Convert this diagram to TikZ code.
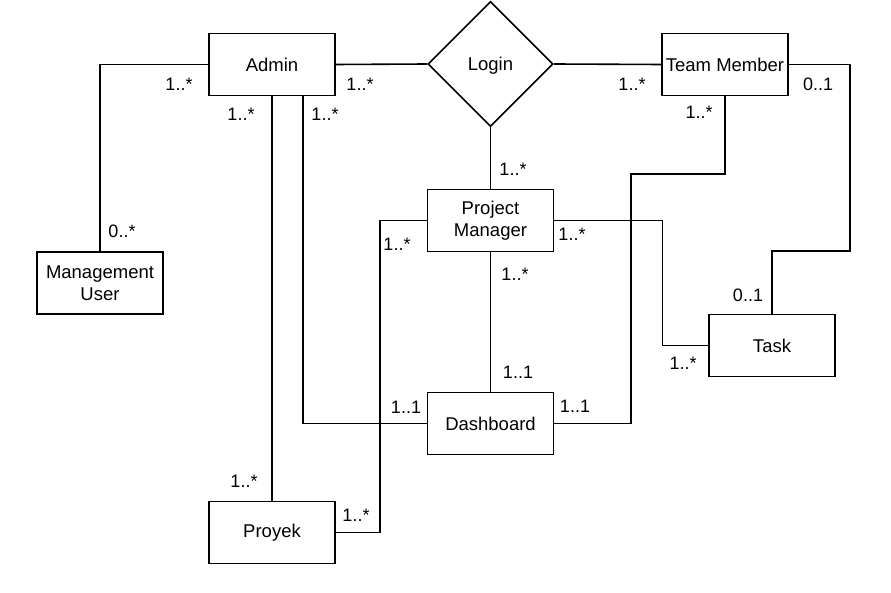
\documentclass[tikz,border=0pt]{standalone}
\usepackage{fontspec}
\setmainfont{Liberation Sans}
\usetikzlibrary{shapes.geometric}

\begin{document}
\begin{tikzpicture}[x=1pt,y=-1pt,line width=1.6pt,
    font=\fontsize{18.5}{22}\selectfont,
    entity/.style={draw,minimum width=126pt,minimum height=62pt,inner sep=0pt,align=center},
    relation/.style={draw,diamond,minimum width=125pt,minimum height=125pt,inner sep=0pt,text depth=0pt},
    mult/.style={inner sep=0pt,font=\fontsize{18}{20}\selectfont}]
            \useasboundingbox (0,0) rectangle (891,593);
            \node[entity] (admin) at (272,64.5) {Admin};
            \node[relation] (login) at (490.5,64) {Login};
            \node[entity] (team) at (725,64.5) {Team Member};
            \node[entity] (mgmt) at (100,283) {Management\\User};
            \node[entity] (pm) at (490.5,220.5) {Project\\Manager};
            \node[entity] (task) at (772,345.5) {Task};
            \node[entity] (dash) at (490.5,423.5) {Dashboard};
            \node[entity] (proyek) at (272,532.5) {Proyek};
            \draw (admin.west) -| (mgmt.north);
            \draw (admin.east) -- (login.west);
            \draw (login.east) -- (team.west);
            \draw (login.south) -- (pm.north);
            \draw (admin.south) -- (proyek.north);
            \draw ([xshift=31pt]admin.south) |- (dash.west);
            \draw (pm.west) -- ++(-47,0) |- (proyek.east);
            \draw (pm.east) -- ++(108,0) |- (task.west);
            \draw (team.south) -- ++(0,78) -- ++(-94,0) |- (dash.east);
            \draw (team.east) -| (850,251) -| (task.north);
            \draw (pm.south) -- (dash.north);
            \node[mult] (m1) at (179,84) {1..*};
            \node[mult] (m2) at (122,231) {0..*};
            \node[mult] (m3) at (360,84) {1..*};
            \node[mult] (m4) at (241,114) {1..*};
            \node[mult] (m5) at (325,114) {1..*};
            \node[mult] (m6) at (397,244) {1..*};
            \node[mult] (m7) at (632,84) {1..*};
            \node[mult] (m8) at (818,84) {0..1};
            \node[mult] (m9) at (699,112) {1..*};
            \node[mult] (m10) at (513,169) {1..*};
            \node[mult] (m11) at (572,234) {1..*};
            \node[mult] (m12) at (515,274) {1..*};
            \node[mult] (m13) at (748,295) {0..1};
            \node[mult] (m14) at (406,407) {1..1};
            \node[mult] (m15) at (244,481) {1..*};
            \node[mult] (m16) at (356,515) {1..*};
            \node[mult] (m17) at (518,372) {1..1};
            \node[mult] (m18) at (575,406) {1..1};
            \node[mult] (m19) at (683,363) {1..*};
        \end{tikzpicture}
\end{document}
